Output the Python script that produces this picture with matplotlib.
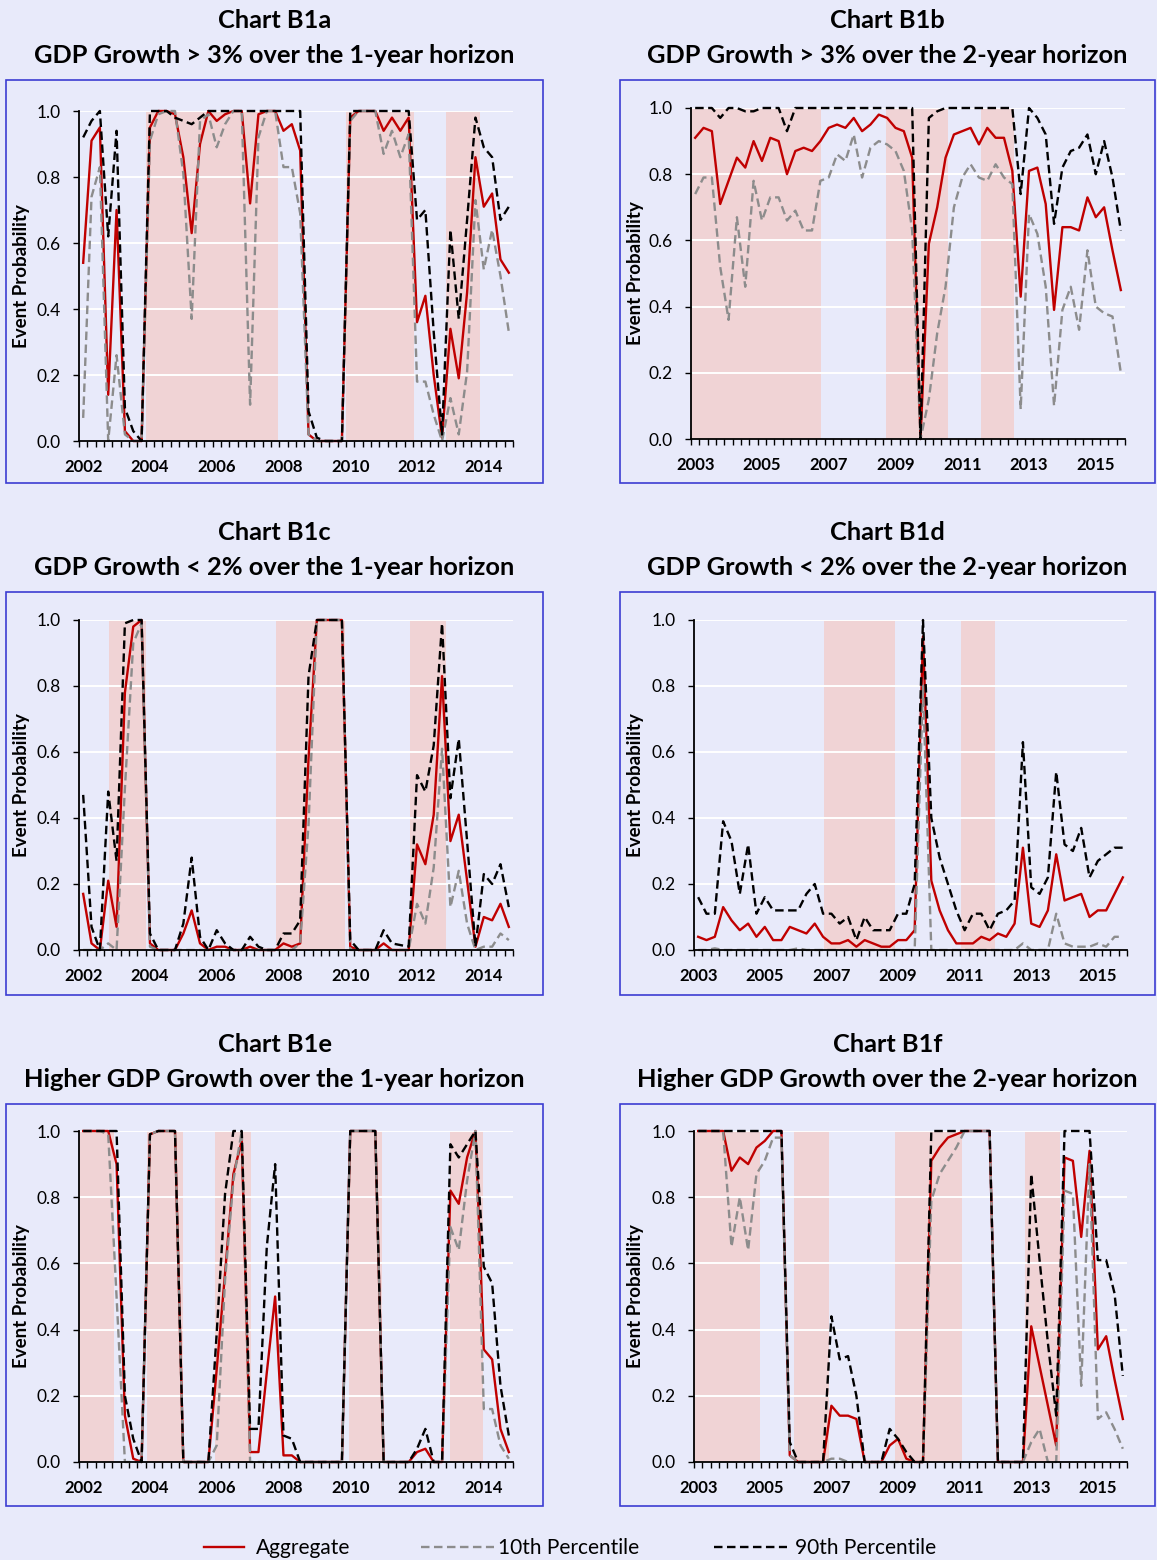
import matplotlib
matplotlib.use("Agg")
import matplotlib.pyplot as plt
from matplotlib.patches import Rectangle
from matplotlib.ticker import FixedLocator, NullFormatter

plt.rcParams['font.family'] = ['Lato', 'DejaVu Sans']

# quarterly data, 52 quarters per chart
years_1y = ['2002', '2004', '2006', '2008', '2010', '2012', '2014']
years_2y = ['2003', '2005', '2007', '2009', '2011', '2013', '2015']

chart_ids = ['Chart B1a', 'Chart B1b', 'Chart B1c', 'Chart B1d', 'Chart B1e', 'Chart B1f']
subtitles = ['GDP Growth > 3% over the 1-year horizon',
             'GDP Growth > 3% over the 2-year horizon',
             'GDP Growth < 2% over the 1-year horizon',
             'GDP Growth < 2% over the 2-year horizon',
             'Higher GDP Growth over the 1-year horizon',
             'Higher GDP Growth over the 2-year horizon']

# B1a
agg_a = [0.54, 0.91, 0.95, 0.14, 0.70, 0.03, 0.00, 0.00, 0.95, 1.00, 1.00, 0.99, 0.86, 0.63, 0.90, 1.00,
         0.97, 0.99, 1.00, 1.00, 0.72, 0.99, 1.00, 1.00, 0.94, 0.96, 0.88, 0.02, 0.00, 0.00, 0.00, 0.00,
         0.98, 1.00, 1.00, 1.00, 0.94, 0.98, 0.94, 0.98, 0.36, 0.44, 0.20, 0.01, 0.34, 0.19, 0.45, 0.86,
         0.71, 0.75, 0.55, 0.51]
p10_a = [0.07, 0.74, 0.83, 0.00, 0.26, 0.02, 0.00, 0.00, 0.91, 0.99, 1.00, 1.00, 0.81, 0.37, 0.97, 0.99,
         0.89, 0.96, 1.00, 1.00, 0.11, 0.92, 1.00, 1.00, 0.83, 0.83, 0.69, 0.02, 0.00, 0.00, 0.00, 0.00,
         0.97, 1.00, 1.00, 1.00, 0.87, 0.94, 0.86, 0.93, 0.18, 0.18, 0.08, 0.00, 0.13, 0.02, 0.21, 0.73,
         0.52, 0.64, 0.50, 0.33]
p90_a = [0.92, 0.97, 1.00, 0.62, 0.94, 0.10, 0.03, 0.00, 1.00, 1.00, 1.00, 0.98, 0.97, 0.96, 0.98, 1.00,
         1.00, 1.00, 1.00, 1.00, 1.00, 1.00, 1.00, 1.00, 1.00, 1.00, 1.00, 0.09, 0.01, 0.00, 0.00, 0.00,
         1.00, 1.00, 1.00, 1.00, 1.00, 1.00, 1.00, 1.00, 0.67, 0.70, 0.33, 0.02, 0.64, 0.37, 0.67, 0.98,
         0.89, 0.86, 0.67, 0.71]

# B1b
agg_b = [0.91, 0.94, 0.93, 0.71, 0.78, 0.85, 0.82, 0.90, 0.84, 0.91, 0.90, 0.80, 0.87, 0.88, 0.87, 0.90,
         0.94, 0.95, 0.94, 0.97, 0.93, 0.95, 0.98, 0.97, 0.94, 0.93, 0.85, 0.00, 0.59, 0.70, 0.85, 0.92,
         0.93, 0.94, 0.89, 0.94, 0.91, 0.91, 0.81, 0.43, 0.81, 0.82, 0.71, 0.39, 0.64, 0.64, 0.63, 0.73,
         0.67, 0.70, 0.57, 0.45]
p10_b = [0.74, 0.79, 0.79, 0.52, 0.36, 0.67, 0.46, 0.78, 0.66, 0.73, 0.73, 0.66, 0.69, 0.63, 0.63, 0.78,
         0.79, 0.86, 0.84, 0.92, 0.79, 0.88, 0.90, 0.89, 0.87, 0.81, 0.63, 0.00, 0.12, 0.32, 0.46, 0.70,
         0.79, 0.83, 0.79, 0.78, 0.83, 0.79, 0.77, 0.09, 0.68, 0.62, 0.46, 0.10, 0.39, 0.46, 0.33, 0.57,
         0.40, 0.38, 0.37, 0.20]
p90_b = [1.00, 1.00, 1.00, 0.97, 1.00, 1.00, 0.99, 0.99, 1.00, 1.00, 1.00, 0.93, 1.00, 1.00, 1.00, 1.00,
         1.00, 1.00, 1.00, 1.00, 1.00, 1.00, 1.00, 1.00, 1.00, 1.00, 1.00, 0.00, 0.97, 0.99, 1.00, 1.00,
         1.00, 1.00, 1.00, 1.00, 1.00, 1.00, 1.00, 0.74, 1.00, 0.97, 0.92, 0.65, 0.82, 0.87, 0.88, 0.92,
         0.80, 0.90, 0.79, 0.63]

# B1c
agg_c = [0.17, 0.02, 0.00, 0.21, 0.07, 0.78, 0.98, 1.00, 0.02, 0.00, 0.00, 0.00, 0.05, 0.12, 0.02, 0.00,
         0.01, 0.01, 0.00, 0.00, 0.01, 0.00, 0.00, 0.00, 0.02, 0.01, 0.02, 0.58, 1.00, 1.00, 1.00, 1.00,
         0.01, 0.00, 0.00, 0.00, 0.02, 0.00, 0.00, 0.00, 0.32, 0.26, 0.41, 0.83, 0.33, 0.41, 0.21, 0.01,
         0.10, 0.09, 0.14, 0.07]
p10_c = [0.00, 0.00, 0.00, 0.02, 0.00, 0.49, 0.93, 0.99, 0.01, 0.00, 0.00, 0.00, 0.00, 0.00, 0.00, 0.00,
         0.00, 0.00, 0.00, 0.00, 0.00, 0.00, 0.00, 0.00, 0.00, 0.00, 0.02, 0.38, 1.00, 1.00, 1.00, 1.00,
         0.00, 0.00, 0.00, 0.00, 0.00, 0.00, 0.00, 0.00, 0.14, 0.08, 0.25, 0.61, 0.13, 0.24, 0.08, 0.00,
         0.01, 0.01, 0.05, 0.03]
p90_c = [0.47, 0.07, 0.00, 0.48, 0.27, 0.99, 1.00, 1.00, 0.05, 0.00, 0.00, 0.00, 0.08, 0.28, 0.04, 0.00,
         0.06, 0.02, 0.00, 0.00, 0.04, 0.01, 0.00, 0.00, 0.05, 0.05, 0.09, 0.83, 1.00, 1.00, 1.00, 1.00,
         0.03, 0.00, 0.00, 0.00, 0.06, 0.02, 0.015, 0.01, 0.53, 0.48, 0.62, 0.99, 0.46, 0.64, 0.33, 0.01,
         0.23, 0.20, 0.26, 0.13]

# B1d
agg_d = [0.04, 0.03, 0.04, 0.13, 0.09, 0.06, 0.08, 0.04, 0.07, 0.03, 0.03, 0.07, 0.06, 0.05, 0.08, 0.04,
         0.02, 0.02, 0.03, 0.01, 0.03, 0.02, 0.01, 0.01, 0.03, 0.03, 0.06, 0.95, 0.21, 0.12, 0.06, 0.02,
         0.02, 0.02, 0.04, 0.03, 0.05, 0.04, 0.08, 0.31, 0.08, 0.07, 0.12, 0.29, 0.15, 0.16, 0.17, 0.10,
         0.12, 0.12, 0.17, 0.22]
p10_d = [0.00, 0.00, 0.005, 0.00, 0.00, 0.00, 0.00, 0.00, 0.00, 0.00, 0.00, 0.00, 0.005, 0.00, 0.00, 0.00,
         0.00, 0.00, 0.00, 0.00, 0.00, 0.00, 0.00, 0.00, 0.00, 0.00, 0.00, 0.80, 0.00, 0.00, 0.00, 0.00,
         0.00, 0.00, 0.00, 0.00, 0.00, 0.00, 0.00, 0.02, 0.00, 0.00, 0.00, 0.11, 0.02, 0.01, 0.01, 0.01,
         0.02, 0.01, 0.04, 0.04]
p90_d = [0.16, 0.11, 0.11, 0.39, 0.33, 0.17, 0.32, 0.11, 0.16, 0.12, 0.12, 0.12, 0.12, 0.17, 0.20, 0.11,
         0.11, 0.08, 0.10, 0.03, 0.10, 0.06, 0.06, 0.06, 0.11, 0.11, 0.20, 1.00, 0.40, 0.28, 0.20, 0.12,
         0.06, 0.11, 0.11, 0.06, 0.11, 0.12, 0.15, 0.63, 0.19, 0.17, 0.22, 0.54, 0.32, 0.30, 0.37, 0.22,
         0.27, 0.29, 0.31, 0.31]

# B1e
agg_e = [1.00, 1.00, 1.00, 1.00, 0.90, 0.14, 0.01, 0.00, 0.99, 1.00, 1.00, 1.00, 0.00, 0.00, 0.00, 0.00,
         0.28, 0.57, 0.87, 0.97, 0.03, 0.03, 0.27, 0.50, 0.02, 0.02, 0.00, 0.00, 0.00, 0.00, 0.00, 0.00,
         1.00, 1.00, 1.00, 1.00, 0.00, 0.00, 0.00, 0.00, 0.03, 0.04, 0.00, 0.00, 0.82, 0.78, 0.92, 1.00,
         0.34, 0.31, 0.10, 0.03]
p10_e = [1.00, 1.00, 1.00, 0.99, 0.50, 0.00, 0.00, 0.00, 0.99, 1.00, 1.00, 1.00, 0.00, 0.00, 0.00, 0.00,
         0.05, 0.55, 0.85, 1.00, 0.00, 0.00, 0.00, 0.00, 0.00, 0.00, 0.00, 0.00, 0.00, 0.00, 0.00, 0.00,
         1.00, 1.00, 1.00, 1.00, 0.00, 0.00, 0.00, 0.00, 0.00, 0.00, 0.00, 0.00, 0.71, 0.64, 0.85, 1.00,
         0.16, 0.16, 0.05, 0.01]
p90_e = [1.00, 1.00, 1.00, 1.00, 1.00, 0.20, 0.07, 0.00, 0.99, 1.00, 1.00, 1.00, 0.00, 0.00, 0.00, 0.00,
         0.39, 0.81, 1.00, 1.00, 0.10, 0.10, 0.65, 0.90, 0.08, 0.07, 0.00, 0.00, 0.00, 0.00, 0.00, 0.00,
         1.00, 1.00, 1.00, 1.00, 0.00, 0.00, 0.00, 0.00, 0.04, 0.10, 0.00, 0.00, 0.96, 0.92, 0.96, 1.00,
         0.59, 0.54, 0.23, 0.08]

# B1f
agg_f = [1.00, 1.00, 1.00, 1.00, 0.88, 0.92, 0.90, 0.95, 0.97, 1.00, 1.00, 0.02, 0.00, 0.00, 0.00, 0.00,
         0.17, 0.14, 0.14, 0.13, 0.00, 0.00, 0.00, 0.05, 0.07, 0.01, 0.00, 0.00, 0.91, 0.95, 0.98, 0.99,
         1.00, 1.00, 1.00, 1.00, 0.00, 0.00, 0.00, 0.00, 0.41, 0.29, 0.17, 0.05, 0.92, 0.91, 0.68, 0.94,
         0.34, 0.38, 0.25, 0.13]
p10_f = [1.00, 1.00, 1.00, 1.00, 0.65, 0.80, 0.64, 0.87, 0.91, 0.98, 0.98, 0.02, 0.00, 0.00, 0.00, 0.00,
         0.01, 0.01, 0.00, 0.00, 0.00, 0.00, 0.00, 0.00, 0.00, 0.00, 0.00, 0.00, 0.79, 0.87, 0.91, 0.95,
         1.00, 1.00, 1.00, 1.00, 0.00, 0.00, 0.00, 0.00, 0.06, 0.10, 0.00, 0.00, 0.82, 0.81, 0.23, 0.90,
         0.13, 0.15, 0.10, 0.04]
p90_f = [1.00, 1.00, 1.00, 1.00, 1.00, 1.00, 1.00, 1.00, 1.00, 1.00, 1.00, 0.06, 0.00, 0.00, 0.00, 0.00,
         0.44, 0.31, 0.32, 0.20, 0.00, 0.00, 0.00, 0.10, 0.07, 0.03, 0.00, 0.00, 1.00, 1.00, 1.00, 1.00,
         1.00, 1.00, 1.00, 1.00, 0.00, 0.00, 0.00, 0.00, 0.87, 0.61, 0.36, 0.14, 1.00, 1.00, 1.00, 1.00,
         0.61, 0.61, 0.51, 0.26]

# shaded periods, in quarters from the start of each axis
shade_a = [(8.0, 23.8), (32.0, 40.1), (44.0, 48.0)]
shade_b = [(0.0, 15.6), (23.4, 30.8), (34.8, 38.7)]
shade_c = [(3.6, 8.0), (23.6, 31.9), (39.7, 44.0)]
shade_d = [(15.6, 24.1), (32.1, 36.1)]
shade_e = [(0.0, 4.25), (8.2, 12.5), (16.3, 20.6), (32.4, 36.25), (44.5, 48.4)]
shade_f = [(0.0, 7.97), (12.0, 16.2), (24.1, 32.2), (39.8, 44.0)]

W, H = 1157, 1560
BG = '#E8EAFA'
RED = '#C00000'
GREY = '#8C8C8C'
PINK = '#F0D3D5'
BOXC = '#3C3CD2'
DASH = (0, (3.6, 1.9))

fig = plt.figure(figsize=(W / 100, H / 100), dpi=100, facecolor=BG)

# panel geometry in pixels: axes (l, r, t, b), box (l, r, t, b), title baselines, ylabel right edge
panels = [
    ((79, 513, 111, 441), (6, 543, 80, 483), (28, 63), 30, years_1y, agg_a, p10_a, p90_a, shade_a),
    ((691, 1125, 108, 439), (620, 1155, 80, 483), (28, 63), 644, years_2y, agg_b, p10_b, p90_b, shade_b),
    ((79, 513, 620, 950), (6, 543, 592, 995), (540, 575), 30, years_1y, agg_c, p10_c, p90_c, shade_c),
    ((694, 1127, 620, 950), (620, 1155, 592, 995), (540, 575), 644, years_2y, agg_d, p10_d, p90_d, shade_d),
    ((79, 513, 1131, 1462), (6, 543, 1104, 1506), (1052, 1087), 30, years_1y, agg_e, p10_e, p90_e, shade_e),
    ((694, 1127, 1131, 1462), (620, 1155, 1104, 1506), (1052, 1087), 644, years_2y, agg_f, p10_f, p90_f, shade_f),
]

handles = None
for k, (arect, brect, tys, ylx, yrs, agg, p10, p90, shades) in enumerate(panels):
    l, r, t, b = arect
    bl, br, bt, bb = brect

    fig.add_artist(Rectangle((bl / W, 1 - bb / H), (br - bl) / W, (bb - bt) / H,
                             transform=fig.transFigure, fill=False, edgecolor=BOXC, linewidth=1.2))
    cx = (bl + br) / 2 / W
    fig.text(cx, 1 - tys[0] / H, chart_ids[k], ha='center', va='baseline',
             fontsize=18.3, fontweight='bold')
    fig.text(cx, 1 - tys[1] / H, subtitles[k], ha='center', va='baseline',
             fontsize=18.3, fontweight='bold')

    ax = fig.add_axes([l / W, 1 - b / H, (r - l) / W, (b - t) / H])
    ax.set_facecolor(BG)
    x = list(range(len(agg)))

    for s0, s1 in shades:
        ax.axvspan(s0 - 0.5, s1 - 0.5, color=PINK, lw=0, zorder=0)
    for gy in [0.2, 0.4, 0.6, 0.8, 1.0]:
        ax.axhline(gy, color='white', lw=1.4, zorder=1)

    l1, = ax.plot(x, agg, color=RED, lw=1.7, zorder=3, clip_on=False)
    l2, = ax.plot(x, p10, color=GREY, lw=1.7, ls=DASH, zorder=4, clip_on=False)
    l3, = ax.plot(x, p90, color='black', lw=1.7, ls=DASH, zorder=5, clip_on=False)
    handles = (l1, l2, l3)

    ax.set_xlim(-0.5, len(agg) - 0.5)
    ax.set_ylim(0, 1.0)
    ax.set_yticks([0, 0.2, 0.4, 0.6, 0.8, 1.0])
    ax.set_yticklabels(['0.0', '0.2', '0.4', '0.6', '0.8', '1.0'])
    ax.tick_params(axis='y', direction='out', length=4, width=1, pad=9, labelsize=12.5)

    ax.set_xticks(range(0, len(agg), 8))
    ax.set_xticklabels(yrs, fontweight='bold')
    ax.tick_params(axis='x', which='major', length=0, pad=13, labelsize=12)
    ax.xaxis.set_minor_locator(FixedLocator([i - 0.5 for i in range(len(agg) + 1)]))
    ax.xaxis.set_minor_formatter(NullFormatter())
    ax.tick_params(axis='x', which='minor', direction='out', length=4.2, width=1)

    for sp in ['top', 'right']:
        ax.spines[sp].set_visible(False)
    for sp in ['left', 'bottom']:
        ax.spines[sp].set_linewidth(1.3)
        ax.spines[sp].set_zorder(6)

    ax.set_ylabel('Event Probability', fontsize=13.5, fontweight='bold')
    ax.yaxis.set_label_coords((ylx - l) / (r - l), 0.5)

# legend along the bottom
leg_y = 1 - 1548 / H
labels = ['Aggregate', '10th Percentile', '90th Percentile']
starts = [204, 421, 714]
hlens = [1.9, 3.5, 3.5]
tpads = [0.6, 0.2, 0.4]
for h, lab, x0, hl, tp in zip(handles, labels, starts, hlens, tpads):
    fig.legend([h], [lab], loc='center left', bbox_to_anchor=(x0 / W, leg_y),
               frameon=False, fontsize=15, handlelength=hl, handletextpad=tp,
               borderpad=0, borderaxespad=0)

fig.savefig('out.png', dpi=100, facecolor=BG)
